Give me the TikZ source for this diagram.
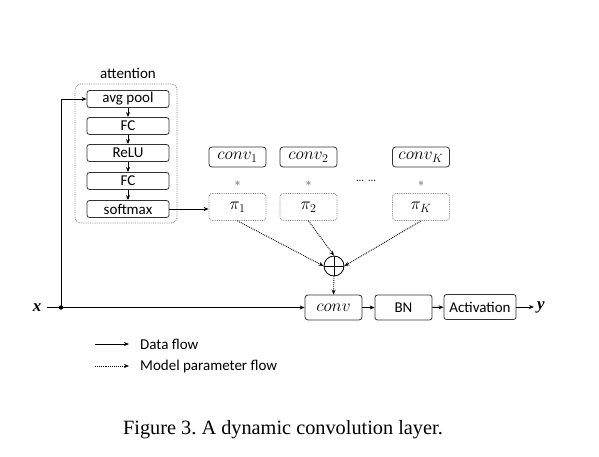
\documentclass[tikz,border=0pt]{standalone}
\usepackage{fontspec}
\setsansfont{Carlito}
\newfontfamily\capfont{Liberation Serif}
\usetikzlibrary{arrows.meta}
\frenchspacing
\begin{document}
\begin{tikzpicture}[x=1pt,y=-1pt,
  blk/.style={draw=black!80, line width=0.8pt, rounded corners=2.5pt, minimum width=82pt, minimum height=17pt, inner sep=0pt, font=\sffamily\fontsize{15}{15}\selectfont},
  cbox/.style={draw=black!80, line width=0.8pt, rounded corners=3pt, minimum width=57pt, minimum height=20pt, inner sep=0pt, font=\fontsize{18}{18}\selectfont},
  pbox/.style={draw=gray, densely dotted, line width=0.8pt, rounded corners=3pt, minimum width=57pt, minimum height=27pt, inner sep=0pt, font=\fontsize{18}{18}\selectfont},
  arr/.style={-{Stealth[length=5pt,width=4pt]}, line width=1pt},
  parr/.style={-{Stealth[length=5pt,width=4pt]}, line width=0.9pt, densely dotted},
  lbl/.style={font=\sffamily\fontsize{15}{15}\selectfont, inner sep=0pt},
  mlbl/.style={font=\capfont\bfseries\itshape\fontsize{17}{17}\selectfont, inner sep=0pt}
]
\useasboundingbox (0,0) rectangle (599,456);

% attention block
\node[draw=gray, densely dotted, line width=0.8pt, rounded corners=6pt, minimum width=102pt, minimum height=139pt, inner sep=0pt] (att) at (126,153.5) {};
\node[lbl] (attl) at (128,73) {attention};
\node[blk] (avg) at (128,99) {avg pool};
\node[blk] (fc1) at (128,126) {FC};
\node[blk] (relu) at (128,153) {ReLU};
\node[blk] (fc2) at (128,181) {FC};
\node[blk] (soft) at (128,209) {softmax};
\draw[arr] (avg) -- (fc1);
\draw[arr] (fc1) -- (relu);
\draw[arr] (relu) -- (fc2);
\draw[arr] (fc2) -- (soft);

% kernels
\node[cbox] (c1) at (237.5,157) {$conv_1$};
\node[cbox] (c2) at (308.5,157) {$conv_2$};
\node[cbox] (cK) at (421,157) {$conv_K$};
\node[inner sep=0pt, text=black!70, font=\fontsize{12}{12}\selectfont] (s1) at (237.5,184) {$*$};
\node[inner sep=0pt, text=black!70, font=\fontsize{12}{12}\selectfont] (s2) at (308.5,184) {$*$};
\node[inner sep=0pt, text=black!70, font=\fontsize{12}{12}\selectfont] (sK) at (421,184) {$*$};
\node[inner sep=0pt, font=\fontsize{16}{16}\selectfont] (dots) at (366,181) {\dots\,\dots};
\node[pbox] (p1) at (237.5,207) {$\pi_1$};
\node[pbox] (p2) at (308.5,207) {$\pi_2$};
\node[pbox] (pK) at (421,207) {$\pi_K$};

\draw[arr] (soft.east) -- (p1.west |- soft.east);

% sum
\node[circle, draw, line width=0.8pt, minimum size=20pt, inner sep=0pt] (op) at (334,266) {};
\draw[line width=0.8pt] (op.north) -- (op.south) (op.west) -- (op.east);
\draw[parr] (p1.south) -- (op.west);
\draw[parr] (p2.south) -- (op.north);
\draw[parr] (pK.south) -- (op.east);

% main path
\node[mlbl] (xin) at (37,308) {x};
\node[draw=black!80, line width=0.8pt, rounded corners=3pt, minimum width=57pt, minimum height=25pt, inner sep=0pt, font=\fontsize{19}{19}\selectfont] (conv) at (333.5,307.5) {$conv$};
\node[blk, minimum width=57pt, minimum height=25pt] (bn) at (403.5,307.5) {BN};
\node[blk, minimum width=72pt, minimum height=25pt] (act) at (480,307) {Activation};
\node[mlbl] (yout) at (541,307) {y};
\coordinate (xs) at (47,307.5);
\coordinate (split) at (61,307.5);
\coordinate (ye) at (534,307);
\draw[line width=1pt] (xs) -- (split);
\draw[arr] (split) -- (conv.west);
\fill (split) circle (2.2pt);
\draw[arr] (split) |- (avg.west);
\draw[parr] (op.south) -- (conv.north);
\draw[arr] (conv) -- (bn);
\draw[arr] (bn) -- (act);
\draw[arr] (act.east) -- (ye);

% legend
\coordinate (la1) at (95,344);
\coordinate (lb1) at (129,344);
\coordinate (la2) at (95,366);
\coordinate (lb2) at (129,366);
\draw[arr] (la1) -- (lb1);
\draw[parr] (la2) -- (lb2);
\node[lbl, anchor=west] (leg1) at (140,344) {Data flow};
\node[lbl, anchor=west] (leg2) at (140,366) {Model parameter flow};

% caption
\node[font=\capfont\fontsize{20.3}{20.3}\selectfont, inner sep=0pt] (cap) at (283,430) {Figure 3. A dynamic convolution layer.};
\end{tikzpicture}
\end{document}
